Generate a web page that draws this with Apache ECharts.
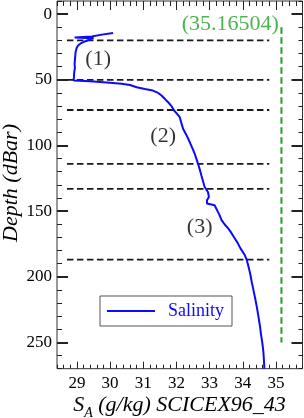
<!DOCTYPE html>
<html><head><meta charset="utf-8">
<script src="https://cdn.jsdelivr.net/npm/echarts@6/dist/echarts.min.js"></script>
<style>html,body{margin:0;padding:0;background:#fff}#c{width:304px;height:418px}</style>
</head><body><div id="c"></div>
<script>
// ---- data ----
const depth = [14.4, 15.6, 17.0, 17.7, 18.3, 19.2, 20.8, 22.5, 24, 26, 29, 32, 35, 38, 41, 44, 48, 50.6,
  51.2, 52.0, 53.0, 54.0, 55.7, 57.0, 58.2, 60, 62, 64.5, 67.1, 70, 73.4, 76, 78.5, 83, 87.3, 92, 97.4,
  102, 106.3, 110, 113.8, 118, 122.7, 127, 131.6, 135.4, 139.2, 141.7, 144.2, 145.5, 148, 150.6, 153,
  156.9, 160, 163.2, 166, 170.8, 174, 178.4, 183, 187.2, 192, 197.3, 204, 210, 216, 222.6, 230, 237.9,
  244, 250.5, 257, 264.4, 270];
const salinity = [30.09, 29.75, 29.45, 28.93, 29.5, 29.55, 29.24, 29.10, 29.03, 28.99, 28.96, 28.95, 28.94, 28.93, 28.94, 28.92, 28.91, 28.90,
  29.4, 29.9, 30.35, 30.6, 30.8, 31.05, 31.29, 31.45, 31.55, 31.65, 31.75, 31.85, 31.93, 32.02, 32.10, 32.15, 32.2, 32.3, 32.4,
  32.48, 32.55, 32.6, 32.65, 32.7, 32.75, 32.8, 32.85, 32.95, 32.98, 32.92, 32.92, 33.15, 33.2, 33.25, 33.3,
  33.36, 33.45, 33.56, 33.64, 33.76, 33.84, 33.93, 34.05, 34.12, 34.17, 34.22, 34.27, 34.32, 34.37, 34.42, 34.47, 34.52,
  34.55, 34.59, 34.62, 34.64, 34.65];
const boundaryDepths = [20, 50, 73, 114, 133, 187];
const boundarySalinityRange = [28.7, 34.8];
const refSalinity = 35.16504;
const refDepthRange = [10, 250];
const refLabel = '(35.16504)';
const refLabelPos = [35.09, 7.6];
const regionLabels = ['(1)', '(2)', '(3)'];
const regionLabelSalinity = [29.64, 31.6, 32.7];
const regionLabelDepth = [34.7, 93, 161.9];
const xTicks = [29, 30, 31, 32, 33, 34, 35];
const yTicks = [0, 50, 100, 150, 200, 250];
const xRange = [28.4, 35.8];
const yRange = [-10, 270];

// ---- chart ----
const FONT = '"Liberation Serif", "Times New Roman", serif';
const AX = '#222';
function xAx(pos, major, len, labels) {
  const a = {type: 'value', gridIndex: 0, min: xRange[0], max: xRange[1], position: pos,
    axisLine: {show: false, onZero: false}, splitLine: {show: false},
    axisTick: {show: true, inside: true, length: len, lineStyle: {color: AX, width: 1}},
    axisLabel: {show: false}};
  if (major) { a.axisTick.customValues = xTicks; } else { a.interval = 0.2; }
  if (labels) { a.axisLabel = {show: true, customValues: xTicks, margin: 6, color: '#000', fontFamily: FONT, fontSize: 17}; }
  return a;
}
function yAx(pos, major, len, w, labels) {
  const a = {type: 'value', gridIndex: 0, min: yRange[0], max: yRange[1], inverse: true, position: pos,
    axisLine: {show: false, onZero: false}, splitLine: {show: false},
    axisTick: {show: true, inside: true, length: len, lineStyle: {color: AX, width: w}},
    axisLabel: {show: false}};
  if (major) { a.axisTick.customValues = yTicks; } else { a.interval = 10; }
  if (labels) { a.axisLabel = {show: true, customValues: yTicks, margin: 5, color: '#000', fontFamily: FONT, fontSize: 17}; }
  return a;
}
const series = [];
series.push({name: 'Salinity', type: 'line', xAxisIndex: 0, yAxisIndex: 0, symbol: 'none', z: 5,
  color: '#0a0aff', lineStyle: {color: '#0a0aff', width: 2},
  data: depth.map((d, i) => [salinity[i], d])});
boundaryDepths.forEach(d => series.push({type: 'line', xAxisIndex: 0, yAxisIndex: 0, symbol: 'none', silent: true, z: 3,
  lineStyle: {color: '#1a1a1a', width: 1.8, type: [6.5, 3.5]},
  data: [[boundarySalinityRange[0], d], [boundarySalinityRange[1], d]]}));
series.push({type: 'line', xAxisIndex: 0, yAxisIndex: 0, symbol: 'none', silent: true, z: 3,
  lineStyle: {color: '#22a022', width: 2, type: [6.5, 3.5]},
  data: [[refSalinity, refDepthRange[0]], [refSalinity, refDepthRange[1]]]});
series.push({type: 'scatter', xAxisIndex: 0, yAxisIndex: 0, symbolSize: 0, silent: true, z: 6,
  itemStyle: {color: '#000'},
  label: {show: true, position: 'inside', color: '#000', textBorderWidth: 0, fontFamily: FONT, fontSize: 22, formatter: p => p.data.name},
  data: regionLabels.map((t, i) => ({name: t, value: [regionLabelSalinity[i], regionLabelDepth[i]]}))});
series.push({type: 'scatter', xAxisIndex: 0, yAxisIndex: 0, symbolSize: 0, silent: true, z: 6,
  itemStyle: {color: '#22a022'},
  label: {show: true, position: 'left', distance: 0, color: '#22a022', textBorderWidth: 0, fontFamily: FONT, fontSize: 22, formatter: p => p.data.name},
  data: [{name: refLabel, value: refLabelPos}]});

const chart = echarts.init(document.getElementById('c'), null, {renderer: 'canvas'});
chart.setOption({
  animation: false,
  backgroundColor: '#fff',
  grid: {left: 57, right: 1.5, top: 1, bottom: 49.3, show: true, borderColor: '#333', borderWidth: 1, containLabel: false},
  xAxis: [xAx('bottom', false, 4, false), xAx('bottom', true, 7, true), xAx('top', false, 5, false), xAx('top', true, 9, false)],
  yAxis: [yAx('left', false, 5, 1, false), yAx('left', true, 11, 2, true), yAx('right', false, 4, 1, false), yAx('right', true, 11, 2, false)],
  legend: {data: [{name: 'Salinity', icon: 'rect'}], left: 100, top: 296, orient: 'horizontal', itemWidth: 48, itemHeight: 2,
    padding: [6, 8, 6, 7], borderColor: '#555', borderWidth: 1, backgroundColor: '#fff',
    itemStyle: {color: '#0a0aff', borderWidth: 0},
    textStyle: {color: '#0a0aff', fontFamily: FONT, fontSize: 18, padding: [0, 0, 0, 8]}},
  graphic: [
    {type: 'text', x: 179.5, y: 405.6, style: {text: '{m|S}{s|A}{m| (g/kg) SCICEX96_43}', textAlign: 'center', textVerticalAlign: 'middle',
      rich: {m: {fontFamily: FONT, fontStyle: 'italic', fontSize: 22, lineHeight: 30, fill: '#000'},
             s: {fontFamily: FONT, fontStyle: 'italic', fontSize: 14, lineHeight: 14, verticalAlign: 'bottom', fill: '#000'}}}},
    {type: 'text', x: 11, y: 183, rotation: Math.PI / 2, style: {text: 'Depth (dBar)', textAlign: 'center', textVerticalAlign: 'middle',
      fontFamily: FONT, fontStyle: 'italic', fontSize: 22, fill: '#000'}}
  ],
  series: series
});
</script></body></html>
